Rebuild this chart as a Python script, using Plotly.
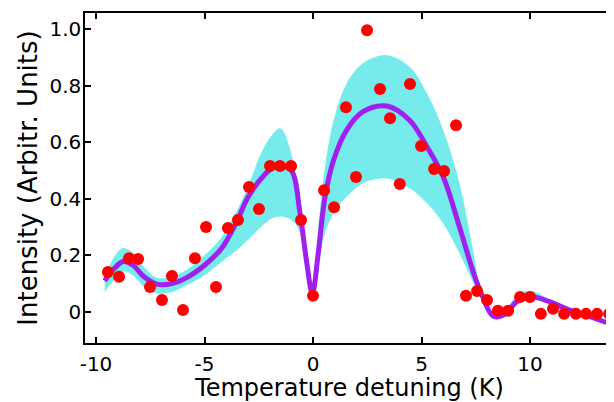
import plotly.graph_objects as go

# Measured data points
x_pts = [-9.45, -8.94, -8.48, -8.06, -7.51, -6.96, -6.5, -5.99, -5.44, -4.93,
         -4.47, -3.92, -3.46, -2.95, -2.49, -1.98, -1.52, -1.01, -0.55, 0.0,
         0.51, 0.97, 1.52, 1.98, 2.49, 3.09, 3.55, 4.0, 4.47, 4.98,
         5.58, 6.04, 6.59, 7.05, 7.56, 8.02, 8.52, 8.99, 9.54, 10.0,
         10.5, 11.06, 11.57, 12.12, 12.58, 13.09, 13.64]
y_pts = [0.141, 0.124, 0.19, 0.187, 0.088, 0.042, 0.127, 0.007, 0.19, 0.30,
         0.088, 0.297, 0.325, 0.442, 0.364, 0.516, 0.516, 0.516, 0.325, 0.057,
         0.43, 0.37, 0.724, 0.477, 0.996, 0.788, 0.685, 0.452, 0.806, 0.587,
         0.505, 0.498, 0.66, 0.057, 0.074, 0.042, 0.004, 0.004, 0.053, 0.053,
         -0.007, 0.011, -0.007, -0.007, -0.007, -0.007, -0.007]

# Fit curve and confidence band
x_fit = [-9.6, -9.2, -8.75, -8.3, -7.8, -7.2, -6.5, -5.8, -5.0, -4.2,
         -3.5, -3.0, -2.4, -1.9, -1.5, -1.0, -0.6, -0.3, -0.03, 0.24,
         0.55, 0.95, 1.55, 2.3, 3.4, 4.45, 5.25, 6.0, 6.75, 7.4,
         7.75, 8.3, 8.8, 9.4, 10.0, 10.9, 11.8, 12.75, 13.7]
y_fit = [0.110, 0.150, 0.178, 0.165, 0.125, 0.098, 0.100, 0.122, 0.165, 0.226,
         0.322, 0.405, 0.470, 0.508, 0.515, 0.500, 0.350, 0.180, 0.065, 0.207,
         0.405, 0.537, 0.643, 0.708, 0.728, 0.678, 0.584, 0.478, 0.300, 0.137,
         0.066, -0.015, -0.010, 0.036, 0.054, 0.036, 0.007, -0.017, -0.042]
y_up = [0.120, 0.190, 0.226, 0.210, 0.160, 0.121, 0.125, 0.150, 0.200, 0.266,
        0.360, 0.443, 0.560, 0.625, 0.649, 0.560, 0.360, 0.190, 0.075, 0.300,
        0.514, 0.678, 0.808, 0.879, 0.908, 0.867, 0.773, 0.643, 0.455, 0.207,
        0.075, -0.005, 0.000, 0.060, 0.075, 0.045, 0.012, -0.012, -0.037]
y_lo = [0.070, 0.110, 0.142, 0.130, 0.090, 0.066, 0.070, 0.095, 0.130, 0.178,
        0.219, 0.254, 0.300, 0.330, 0.337, 0.325, 0.280, 0.170, 0.060, 0.160,
        0.278, 0.349, 0.407, 0.455, 0.472, 0.437, 0.384, 0.313, 0.207, 0.101,
        0.055, -0.025, -0.020, 0.030, 0.045, 0.030, 0.003, -0.022, -0.047]

x_ticks = [-10, -5, 0, 5, 10]
x_tick_labels = ["-10", "-5", "0", "5", "10"]
y_ticks = [0, 0.2, 0.4, 0.6, 0.8, 1.0]
y_tick_labels = ["0", "0.2", "0.4", "0.6", "0.8", "1.0"]

BAND = "#76EBEC"
PURPLE = "#A020F0"
FONT = "DejaVu Sans"

fig = go.Figure()
fig.add_trace(go.Scatter(x=x_fit, y=y_lo, mode="lines", line=dict(width=0, shape="spline", color=BAND),
                         hoverinfo="skip", showlegend=False))
fig.add_trace(go.Scatter(x=x_fit, y=y_up, mode="lines", line=dict(width=0, shape="spline", color=BAND),
                         fill="tonexty", fillcolor=BAND, hoverinfo="skip", showlegend=False))
fig.add_trace(go.Scatter(x=x_fit, y=y_fit, mode="lines", line=dict(width=5, shape="spline", color=PURPLE),
                         showlegend=False))
fig.add_trace(go.Scatter(x=x_pts, y=y_pts, mode="markers",
                         marker=dict(size=12, color="#FF0000", line=dict(width=0)), showlegend=False))

axis_common = dict(showline=True, linecolor="black", linewidth=1.5, mirror="ticks",
                   ticks="inside", ticklen=6, tickwidth=1.5, tickcolor="black",
                   showgrid=False, zeroline=False, automargin=False,
                   tickfont=dict(family=FONT, size=20, color="black"))

fig.update_xaxes(range=[-10.507, 13.87], tickvals=x_ticks, ticktext=x_tick_labels,
                 title=dict(text="Temperature detuning (K)", font=dict(family=FONT, size=24, color="black"),
                            standoff=6),
                 ticklabelstandoff=2, **axis_common)
fig.update_yaxes(range=[-0.11, 1.057], tickvals=y_ticks, ticktext=y_tick_labels,
                 title=dict(text="Intensity (Arbitr. Units)", font=dict(family=FONT, size=26, color="black"),
                            standoff=4),
                 ticklabelstandoff=-2, **axis_common)

# page body has an 8px default margin; size the figure so the plot area lands where the reference has it
fig.update_layout(width=606, height=394, margin=dict(l=77, r=0, t=5, b=59),
                  plot_bgcolor="white", paper_bgcolor="white")

fig.write_html("out.html")
